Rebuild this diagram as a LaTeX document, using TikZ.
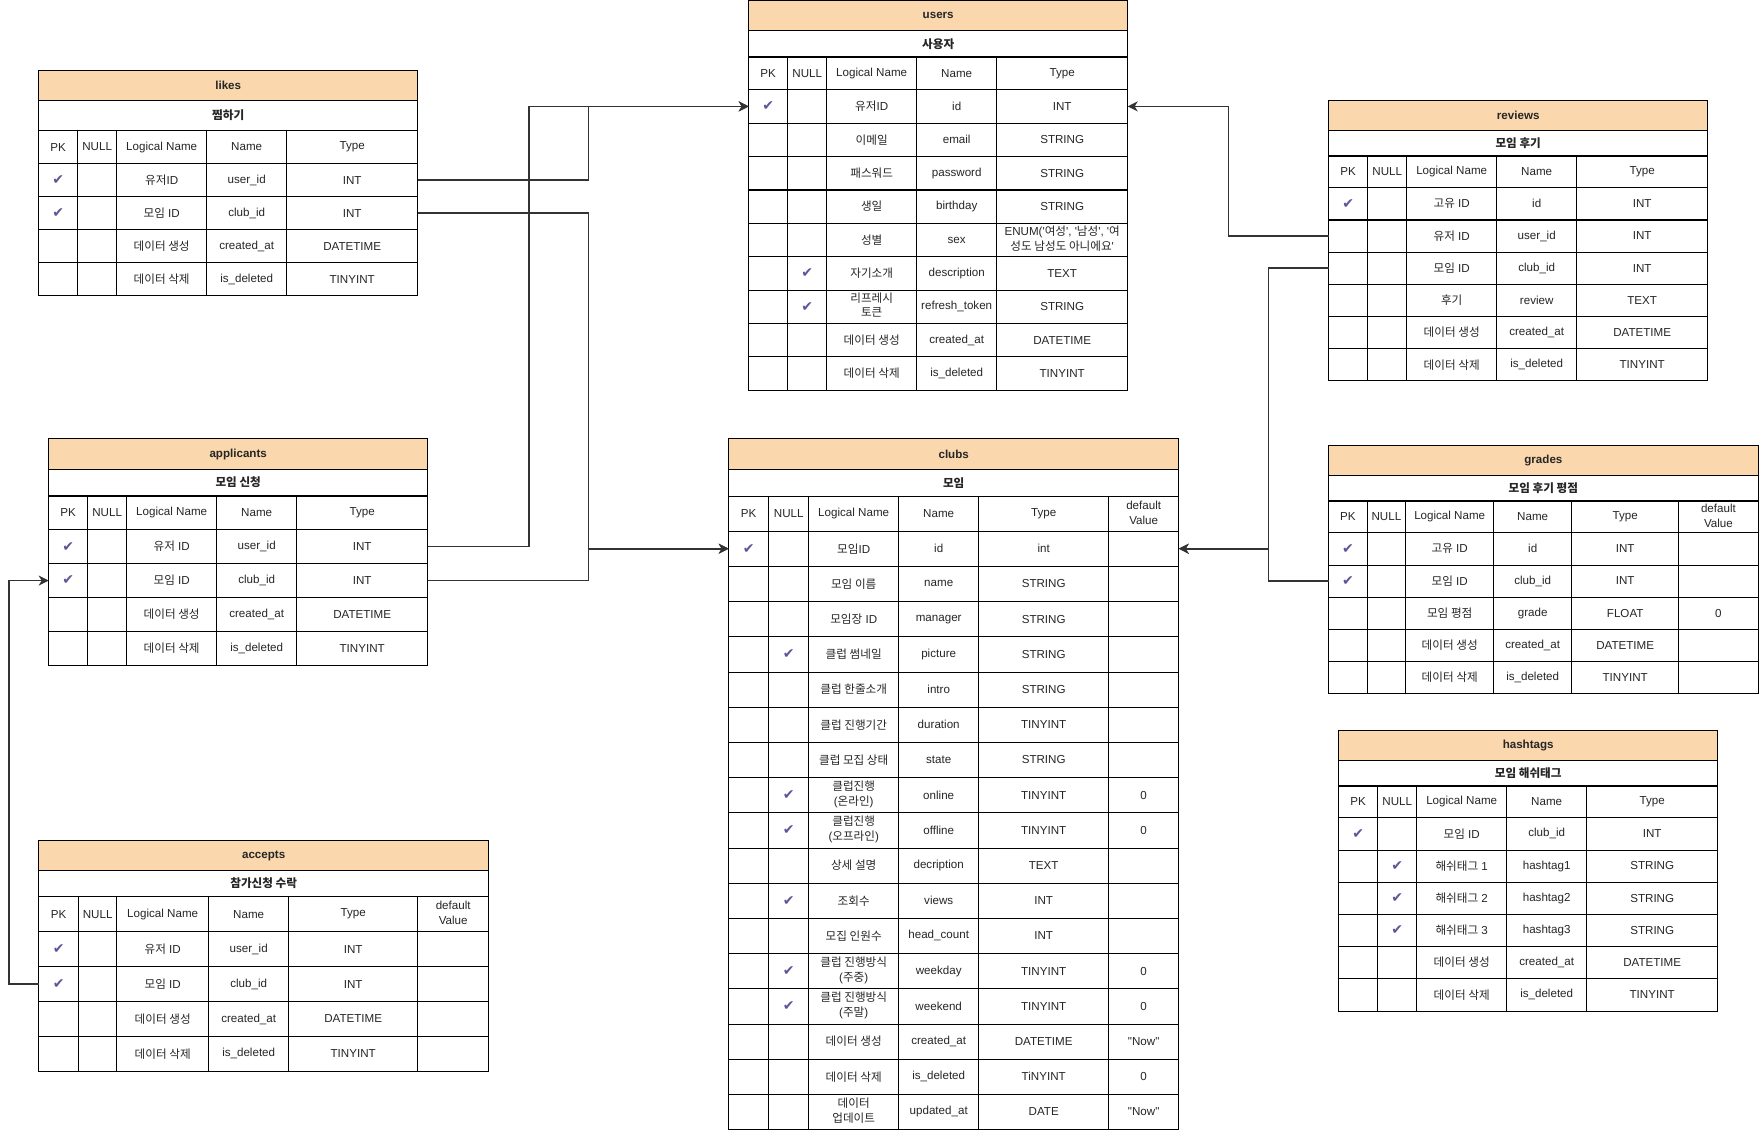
\documentclass[tikz,border=0pt]{standalone}
\usepackage{fontspec}
\setmainfont{Liberation Sans}
\newfontfamily\krfont{Noto Sans CJK KR}
\newfontfamily\chkfont{DejaVu Sans}
\usepackage{tikz}
\usetikzlibrary{arrows.meta,positioning,matrix}
\definecolor{erhead}{RGB}{250,215,172}
\definecolor{chk}{RGB}{96,84,150}

\newcommand\cellfont{\fontsize{11.6}{14.5}\selectfont}
\newcommand\ko[1]{{\krfont #1}}
\newcommand\ck{{\chkfont\fontsize{14}{14}\selectfont\color{chk}✔}}
\newcommand\sq{\textquotesingle}
\newcommand\dq{\textquotedbl}
\newcommand\twoline[2]{\begin{tabular}{@{}c@{}}#1\\#2\end{tabular}}
% title + subtitle stacked on top of a table matrix
\newcommand\erhead[5]{%
  \node[ersub, minimum width=#2, minimum height=#3, above=0pt of #1] (#1-sub) {#5};
  \node[ertitle, minimum width=#2, above=0pt of #1-sub] (#1-title) {#4};
}

\begin{document}
\begin{tikzpicture}[
  x=1pt, y=-1pt, font=\cellfont,
  ertbl/.style={matrix of nodes, nodes in empty cells, anchor=north west, inner sep=0pt, outer sep=0pt,
    column sep=-0.8pt, row sep=-0.8pt,
    nodes={draw, line width=0.8pt, inner sep=1pt, outer sep=0pt, anchor=center, text=black!85}},
  cols/.style n args={5}{column 1/.style={nodes={minimum width=#1}}, column 2/.style={nodes={minimum width=#2}},
    column 3/.style={nodes={minimum width=#3}}, column 4/.style={nodes={minimum width=#4}},
    column 5/.style={nodes={minimum width=#5}}},
  dflt/.style={column 6/.style={nodes={minimum width=#1}}},
  rowh/.style 2 args={nodes={minimum height=#2}, row 1/.style={nodes={minimum height=#1}}},
  ersub/.style={draw, line width=0.8pt, inner sep=0pt, outer sep=0pt, text=black!85, font=\cellfont\krfont\bfseries},
  ertitle/.style={draw, line width=0.8pt, fill=erhead, inner sep=0pt, outer sep=0pt, minimum height=30.5pt,
    text=black!85, font=\cellfont\bfseries},
  rel/.style={line width=1.6pt, black!80, -{Stealth[length=10pt,width=10pt,inset=3pt]}}
]
\fill[white] (0,0) rectangle (1759,1131);
\useasboundingbox (0,0) rectangle (1759,1131);

% likes
\matrix[ertbl, cols={39pt}{39pt}{90pt}{80pt}{131pt}, rowh={33.3pt}{33pt}] (likes) at (38.3,130) {
PK & NULL & Logical Name & Name & Type \\
\ck & & \ko{유저}ID & user\_id & INT \\
\ck & & \ko{모임} ID & club\_id & INT \\
 & & \ko{데이터 생성} & created\_at & DATETIME \\
 & & \ko{데이터 삭제} & is\_deleted & TINYINT \\
};
\erhead{likes}{379pt}{29.3pt}{likes}{찜하기}

% users
\matrix[ertbl, cols={39pt}{39pt}{90pt}{80pt}{131pt}, rowh={32.6pt}{33.4pt}] (users) at (748.3,56.7) {
PK & NULL & Logical Name & Name & Type \\
\ck & & \ko{유저}ID & id & INT \\
 & & \ko{이메일} & email & STRING \\
 & & \ko{패스워드} & password & STRING \\
 & & \ko{생일} & birthday & STRING \\
 & & \ko{성별} & sex & \twoline{ENUM(\sq\ko{여성}\sq, \sq\ko{남성}\sq, \sq\ko{여}}{\ko{성도 남성도 아니에요}\sq} \\
 & \ck & \ko{자기소개} & description & TEXT \\
 & \ck & \twoline{\ko{리프레시}}{\ko{토큰}} & refresh\_token & STRING \\
 & & \ko{데이터 생성} & created\_at & DATETIME \\
 & & \ko{데이터 삭제} & is\_deleted & TINYINT \\
};
\erhead{users}{379pt}{26pt}{users}{사용자}

% reviews
\matrix[ertbl, cols={39pt}{39pt}{90pt}{80pt}{131pt}, rowh={31.6pt}{32.2pt}] (reviews) at (1328.3,155.7) {
PK & NULL & Logical Name & Name & Type \\
\ck & & \ko{고유} ID & id & INT \\
 & & \ko{유저} ID & user\_id & INT \\
 & & \ko{모임} ID & club\_id & INT \\
 & & \ko{후기} & review & TEXT \\
 & & \ko{데이터 생성} & created\_at & DATETIME \\
 & & \ko{데이터 삭제} & is\_deleted & TINYINT \\
};
\erhead{reviews}{379pt}{25pt}{reviews}{모임 후기}

% applicants
\matrix[ertbl, cols={39pt}{39pt}{90pt}{80pt}{131pt}, rowh={33.6pt}{33.9pt}] (applicants) at (48.3,495.7) {
PK & NULL & Logical Name & Name & Type \\
\ck & & \ko{유저} ID & user\_id & INT \\
\ck & & \ko{모임} ID & club\_id & INT \\
 & & \ko{데이터 생성} & created\_at & DATETIME \\
 & & \ko{데이터 삭제} & is\_deleted & TINYINT \\
};
\erhead{applicants}{379pt}{26.4pt}{applicants}{모임 신청}

% clubs
\matrix[ertbl, cols={40pt}{40pt}{90pt}{80pt}{130pt}, dflt=70pt, rowh={34.4pt}{35.2pt}] (clubs) at (728.3,496.3) {
PK & NULL & Logical Name & Name & Type & \twoline{default}{Value} \\
\ck & & \ko{모임}ID & id & int & \\
 & & \ko{모임 이름} & name & STRING & \\
 & & \ko{모임장} ID & manager & STRING & \\
 & \ck & \ko{클럽 썸네일} & picture & STRING & \\
 & & \ko{클럽 한줄소개} & intro & STRING & \\
 & & \ko{클럽 진행기간} & duration & TINYINT & \\
 & & \ko{클럽 모집 상태} & state & STRING & \\
 & \ck & \twoline{\ko{클럽진행}}{(\ko{온라인})} & online & TINYINT & 0 \\
 & \ck & \twoline{\ko{클럽진행}}{(\ko{오프라인})} & offline & TINYINT & 0 \\
 & & \ko{상세 설명} & decription & TEXT & \\
 & \ck & \ko{조회수} & views & INT & \\
 & & \ko{모집 인원수} & head\_count & INT & \\
 & \ck & \twoline{\ko{클럽 진행방식}}{(\ko{주중})} & weekday & TINYINT & 0 \\
 & \ck & \twoline{\ko{클럽 진행방식}}{(\ko{주말})} & weekend & TINYINT & 0 \\
 & & \ko{데이터 생성} & created\_at & DATETIME & \dq Now\dq \\
 & & \ko{데이터 삭제} & is\_deleted & TiNYINT & 0 \\
 & & \twoline{\ko{데이터}}{\ko{업데이트}} & updated\_at & DATE & \dq Now\dq \\
};
\erhead{clubs}{450pt}{27pt}{clubs}{모임}

% grades
\matrix[ertbl, cols={38.4pt}{38.6pt}{88pt}{78pt}{107pt}, dflt=79.4pt, rowh={31.6pt}{32.2pt}] (grades) at (1328.3,500.7) {
PK & NULL & Logical Name & Name & Type & \twoline{default}{Value} \\
\ck & & \ko{고유} ID & id & INT & \\
\ck & & \ko{모임} ID & club\_id & INT & \\
 & & \ko{모임 평점} & grade & FLOAT & 0 \\
 & & \ko{데이터 생성} & created\_at & DATETIME & \\
 & & \ko{데이터 삭제} & is\_deleted & TINYINT & \\
};
\erhead{grades}{429.4pt}{25pt}{grades}{모임 후기 평점}

% hashtags
\matrix[ertbl, cols={39pt}{39pt}{90pt}{80pt}{131pt}, rowh={31.6pt}{32.2pt}] (hashtags) at (1338.3,785.7) {
PK & NULL & Logical Name & Name & Type \\
\ck & & \ko{모임} ID & club\_id & INT \\
 & \ck & \ko{해쉬태그} 1 & hashtag1 & STRING \\
 & \ck & \ko{해쉬태그} 2 & hashtag2 & STRING \\
 & \ck & \ko{해쉬태그} 3 & hashtag3 & STRING \\
 & & \ko{데이터 생성} & created\_at & DATETIME \\
 & & \ko{데이터 삭제} & is\_deleted & TINYINT \\
};
\erhead{hashtags}{379pt}{25pt}{hashtags}{모임 해쉬태그}

% accepts
\matrix[ertbl, cols={40pt}{38pt}{92pt}{80pt}{129pt}, dflt=71pt, rowh={35pt}{34.9pt}] (accepts) at (38.3,896.3) {
PK & NULL & Logical Name & Name & Type & \twoline{default}{Value} \\
\ck & & \ko{유저} ID & user\_id & INT & \\
\ck & & \ko{모임} ID & club\_id & INT & \\
 & & \ko{데이터 생성} & created\_at & DATETIME & \\
 & & \ko{데이터 삭제} & is\_deleted & TINYINT & \\
};
\erhead{accepts}{450pt}{25.6pt}{accepts}{참가신청 수락}

% relation buses
\coordinate (busA) at (528.7,0);
\coordinate (busB) at (588.3,0);
\coordinate (busC) at (1228.3,0);
\coordinate (busD) at (1268.3,0);
\coordinate (busE) at (9,0);

\draw[rel] (likes-2-5.east) -| (busB |- users-2-1.west) -- (users-2-1.west);
\draw[rel] (applicants-2-5.east) -| (busA |- users-2-1.west) -- (users-2-1.west);
\draw[rel] (likes-3-5.east) -| (busB |- clubs-2-1.west) -- (clubs-2-1.west);
\draw[rel] (applicants-3-5.east) -| (busB |- clubs-2-1.west) -- (clubs-2-1.west);
\draw[rel] (reviews-3-1.west) -| (busC |- users-2-5.east) -- (users-2-5.east);
\draw[rel] (reviews-4-1.west) -| (busD |- clubs-2-6.east) -- (clubs-2-6.east);
\draw[rel] (grades-3-1.west) -| (busD |- clubs-2-6.east) -- (clubs-2-6.east);
\draw[rel] (accepts-3-1.west) -| (busE |- applicants-3-1.west) -- (applicants-3-1.west);
\end{tikzpicture}
\end{document}
